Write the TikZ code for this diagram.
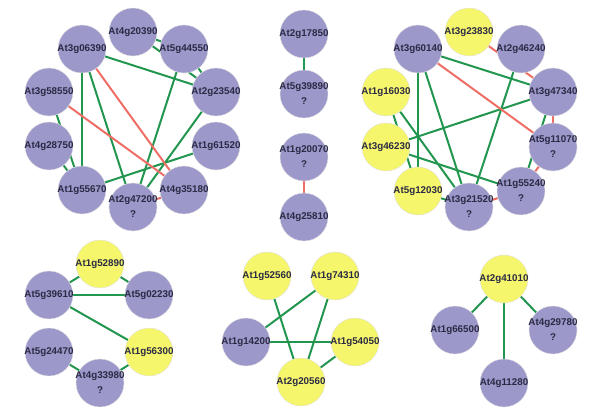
\documentclass[tikz,border=0pt]{standalone}
\usepackage{fontspec}
\setmainfont{Liberation Sans}
\usetikzlibrary{backgrounds}
\definecolor{pur}{HTML}{9C98CA}
\definecolor{yel}{HTML}{F6F66C}
\definecolor{eg}{HTML}{22964F}
\definecolor{er}{HTML}{EE6E66}
\definecolor{tx}{HTML}{2A2A44}
\tikzset{
 gene/.style={circle, minimum size=48pt, inner sep=0pt, draw=black!12, line width=0.4pt},
 pg/.style={gene, fill=pur},
 yg/.style={gene, fill=yel},
 gtext/.style={inner sep=0pt, align=center, text=tx, font=\fontsize{9.8}{15}\bfseries\selectfont},
 ge/.style={draw=eg, line width=2pt},
 re/.style={draw=er, line width=2pt},
}
\newcommand{\gnode}[5]{\node[#4] (#1) at (#2,#3) {}; \node[gtext] (#1t) at (#1) {#5};}
\begin{document}
\begin{tikzpicture}[x=1pt,y=-1pt]
\useasboundingbox (0,0) rectangle (600,417);
% cluster 1
\gnode{At4g20390}{133}{32}{pg}{At4g20390}
\gnode{At3g06390}{82}{49}{pg}{At3g06390}
\gnode{At5g44550}{184}{49}{pg}{At5g44550}
\gnode{At3g58550}{49}{92}{pg}{At3g58550}
\gnode{At2g23540}{216}{92}{pg}{At2g23540}
\gnode{At4g28750}{49}{146}{pg}{At4g28750}
\gnode{At1g61520}{216}{146}{pg}{At1g61520}
\gnode{At1g55670}{82}{190}{pg}{At1g55670}
\gnode{At2g47200}{133}{207}{pg}{At2g47200\\?}
\gnode{At4g35180}{184}{190}{pg}{At4g35180}
% cluster 2
\gnode{At2g17850}{304}{34}{pg}{At2g17850}
\gnode{At5g39890}{304}{94}{pg}{At5g39890\\?}
\gnode{At1g20070}{304}{157}{pg}{At1g20070\\?}
\gnode{At4g25810}{304}{217}{pg}{At4g25810}
% cluster 3
\gnode{At3g23830}{469}{32}{yg}{At3g23830}
\gnode{At3g60140}{418}{49}{pg}{At3g60140}
\gnode{At2g46240}{521}{49}{pg}{At2g46240}
\gnode{At1g16030}{386}{92}{yg}{At1g16030}
\gnode{At3g47340}{553}{92}{pg}{At3g47340}
\gnode{At3g46230}{386}{147}{yg}{At3g46230}
\gnode{At5g11070}{553}{147}{pg}{At5g11070\\?}
\gnode{At5g12030}{418}{191}{yg}{At5g12030}
\gnode{At3g21520}{469}{207}{pg}{At3g21520\\?}
\gnode{At1g55240}{521}{191}{pg}{At1g55240\\?}
% cluster 4
\gnode{At1g52890}{100}{264}{yg}{At1g52890}
\gnode{At5g39610}{49}{295}{pg}{At5g39610}
\gnode{At5g02230}{149}{295}{pg}{At5g02230}
\gnode{At1g56300}{149}{352}{yg}{At1g56300}
\gnode{At5g24470}{49}{352}{pg}{At5g24470}
\gnode{At4g33980}{100}{383}{pg}{At4g33980\\?}
% cluster 5
\gnode{At1g52560}{267}{276}{yg}{At1g52560}
\gnode{At1g74310}{335}{276}{yg}{At1g74310}
\gnode{At1g14200}{246}{342}{pg}{At1g14200}
\gnode{At1g54050}{355}{342}{yg}{At1g54050}
\gnode{At2g20560}{301}{382}{yg}{At2g20560}
% cluster 6
\gnode{At2g41010}{504}{279}{yg}{At2g41010}
\gnode{At1g66500}{455}{330}{pg}{At1g66500}
\gnode{At4g29780}{553}{330}{pg}{At4g29780\\?}
\gnode{At4g11280}{504}{383}{pg}{At4g11280}
\begin{scope}[on background layer]
% cluster 1
\draw[ge] (At4g20390) -- (At5g44550);
\draw[ge] (At4g20390) -- (At2g23540);
\draw[ge] (At5g44550) -- (At2g23540);
\draw[ge] (At3g06390) -- (At2g23540);
\draw[ge] (At3g06390) -- (At1g55670);
\draw[ge] (At3g06390) -- (At2g47200);
\draw[ge] (At5g44550) -- (At2g47200);
\draw[ge] (At2g23540) -- (At2g47200);
\draw[ge] (At1g61520) -- (At1g55670);
\draw[ge] (At3g58550) -- (At1g55670);
\draw[ge] (At4g28750) -- (At1g55670);
\draw[re] (At3g06390) -- (At4g35180);
\draw[re] (At3g58550) -- (At4g35180);
\draw[re] (At2g47200) -- (At4g35180);
% cluster 2
\draw[ge] (At2g17850) -- (At5g39890);
\draw[re] (At1g20070) -- (At4g25810);
% cluster 3
\draw[ge] (At3g60140) -- (At3g47340);
\draw[ge] (At3g60140) -- (At5g12030);
\draw[ge] (At3g60140) -- (At3g21520);
\draw[ge] (At2g46240) -- (At3g21520);
\draw[ge] (At3g47340) -- (At3g46230);
\draw[ge] (At1g16030) -- (At5g12030);
\draw[ge] (At1g16030) -- (At3g21520);
\draw[ge] (At3g46230) -- (At1g55240);
\draw[ge] (At5g12030) -- (At3g21520);
\draw[ge] (At3g47340) -- (At1g55240);
\draw[re] (At3g23830) -- (At3g47340);
\draw[re] (At3g60140) -- (At5g11070);
\draw[re] (At3g47340) -- (At5g11070);
\draw[re] (At5g11070) -- (At1g55240);
\draw[re] (At3g21520) -- (At1g55240);
% cluster 4
\draw[ge] (At1g52890) -- (At5g39610);
\draw[ge] (At1g52890) -- (At5g02230);
\draw[ge] (At5g39610) -- (At5g02230);
\draw[ge] (At5g39610) -- (At1g56300);
\draw[ge] (At5g24470) -- (At4g33980);
\draw[ge] (At4g33980) -- (At1g56300);
% cluster 5
\draw[ge] (At1g52560) -- (At2g20560);
\draw[ge] (At1g74310) -- (At1g14200);
\draw[ge] (At1g74310) -- (At2g20560);
\draw[ge] (At1g14200) -- (At1g54050);
\draw[ge] (At1g54050) -- (At2g20560);
% cluster 6
\draw[ge] (At2g41010) -- (At1g66500);
\draw[ge] (At2g41010) -- (At4g29780);
\draw[ge] (At2g41010) -- (At4g11280);
\end{scope}
\end{tikzpicture}
\end{document}
